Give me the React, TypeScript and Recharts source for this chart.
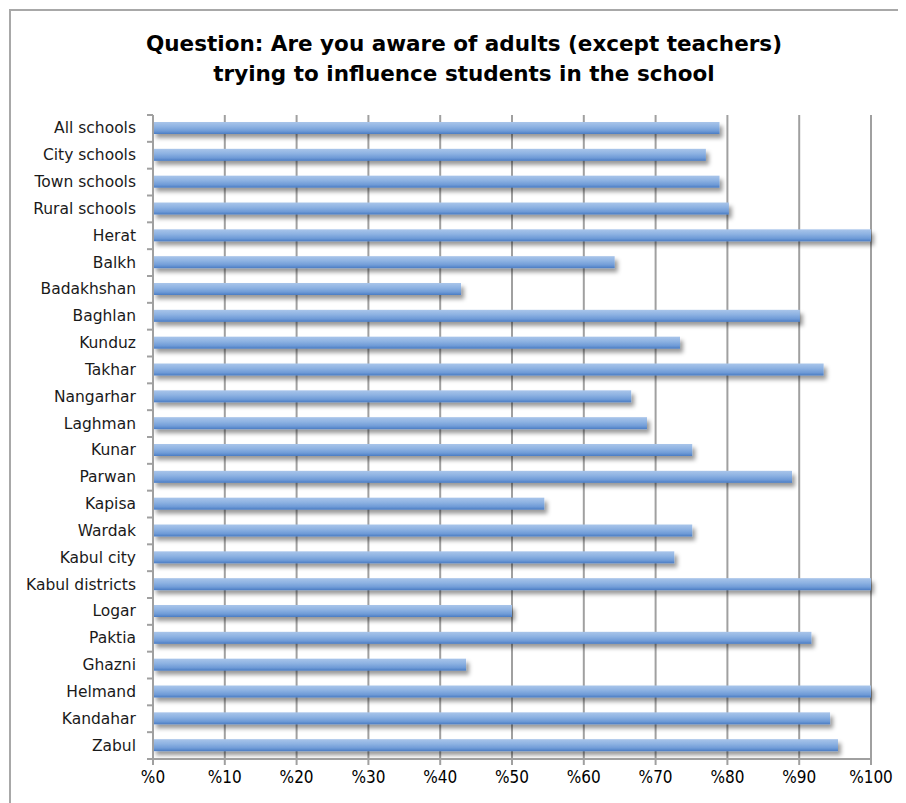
import { BarChart, Bar, XAxis, YAxis, CartesianGrid } from 'recharts'

const categories = [
  'All schools', 'City schools', 'Town schools', 'Rural schools', 'Herat', 'Balkh',
  'Badakhshan', 'Baghlan', 'Kunduz', 'Takhar', 'Nangarhar', 'Laghman', 'Kunar',
  'Parwan', 'Kapisa', 'Wardak', 'Kabul city', 'Kabul districts', 'Logar', 'Paktia',
  'Ghazni', 'Helmand', 'Kandahar', 'Zabul',
]

const values = [
  78.9, 77.0, 78.9, 80.2, 100, 64.3,
  42.9, 90.1, 73.4, 93.4, 66.6, 68.8, 75.1,
  89.0, 54.5, 75.1, 72.6, 100, 50.0, 91.7,
  43.6, 100, 94.3, 95.4,
]

const xTicks = [0, 10, 20, 30, 40, 50, 60, 70, 80, 90, 100]

const data = categories.map((name, i) => ({ name, value: values[i] }))

const FONT = '"DejaVu Sans", sans-serif'
const COND = '"DejaVu Sans Condensed", "DejaVu Sans", sans-serif'
const AXIS = '#a0a0a0'
const PLOT_LEFT = 142
const PLOT_H = 644
const BAND = PLOT_H / categories.length

function CategoryTick(props: any) {
  const { y, payload, index } = props
  return (
    <g>
      <line x1={PLOT_LEFT - 6} x2={PLOT_LEFT} y1={y - BAND / 2} y2={y - BAND / 2} stroke={AXIS} strokeWidth={2} />
      {index === categories.length - 1 && (
        <line x1={PLOT_LEFT - 6} x2={PLOT_LEFT} y1={y + BAND / 2} y2={y + BAND / 2} stroke={AXIS} strokeWidth={2} />
      )}
      <text x={PLOT_LEFT - 17} y={y} textAnchor="end" dominantBaseline="central" fontSize={15.5} fill="#1a1a1a" fontFamily={FONT}>
        {payload.value}
      </text>
    </g>
  )
}

function ShadedBar(props: any) {
  const { x, y, width, height } = props
  if (!width) return null
  return <rect x={x} y={y} width={width} height={height} fill="url(#barGrad)" filter="url(#barShadow)" />
}

export default function App() {
  return (
    <div
      style={{
        position: 'relative',
        marginLeft: 1,
        marginTop: 1,
        width: 920,
        height: 820,
        border: '2px solid #a8a8a8',
        background: '#fff',
        fontFamily: FONT,
      }}
    >
      <style>{'html, body { overflow: hidden; }'}</style>
      <div
        style={{
          position: 'absolute',
          left: 0,
          top: 18,
          width: 906,
          textAlign: 'center',
          fontWeight: 'bold',
          fontSize: 21.5,
          lineHeight: '30px',
          color: '#000',
        }}
      >
        Question: Are you aware of adults (except teachers)
        <br />
        trying to influence students in the school
      </div>
      <BarChart
        width={895}
        height={790}
        data={data}
        layout="vertical"
        barSize={12}
        margin={{ top: 104, right: 35, left: 0, bottom: 12 }}
      >
        <defs>
          <linearGradient id="barGrad" x1="0" y1="0" x2="0" y2="1">
            <stop offset="0%" stopColor="#a9c5ea" />
            <stop offset="40%" stopColor="#8db2e2" />
            <stop offset="75%" stopColor="#6f9bd7" />
            <stop offset="100%" stopColor="#4a7cc3" />
          </linearGradient>
          <filter id="barShadow" x="-5%" y="-50%" width="115%" height="250%">
            <feDropShadow dx="3" dy="4" stdDeviation="2" floodColor="#000" floodOpacity="0.4" />
          </filter>
        </defs>
        <CartesianGrid horizontal={false} stroke={AXIS} strokeWidth={2} />
        <XAxis
          type="number"
          domain={[0, 100]}
          ticks={xTicks}
          tickFormatter={(v) => `%${v}`}
          tick={{ fontSize: 17, fill: '#000', fontFamily: COND }}
          tickLine={{ stroke: AXIS, strokeWidth: 2 }}
          tickSize={6}
          tickMargin={6}
          axisLine={{ stroke: AXIS, strokeWidth: 2 }}
          height={30}
          interval={0}
        />
        <YAxis
          type="category"
          dataKey="name"
          width={PLOT_LEFT}
          tick={<CategoryTick />}
          tickLine={false}
          axisLine={{ stroke: AXIS, strokeWidth: 2 }}
          interval={0}
        />
        <Bar dataKey="value" shape={<ShadedBar />} isAnimationActive={false} />
      </BarChart>
    </div>
  )
}
